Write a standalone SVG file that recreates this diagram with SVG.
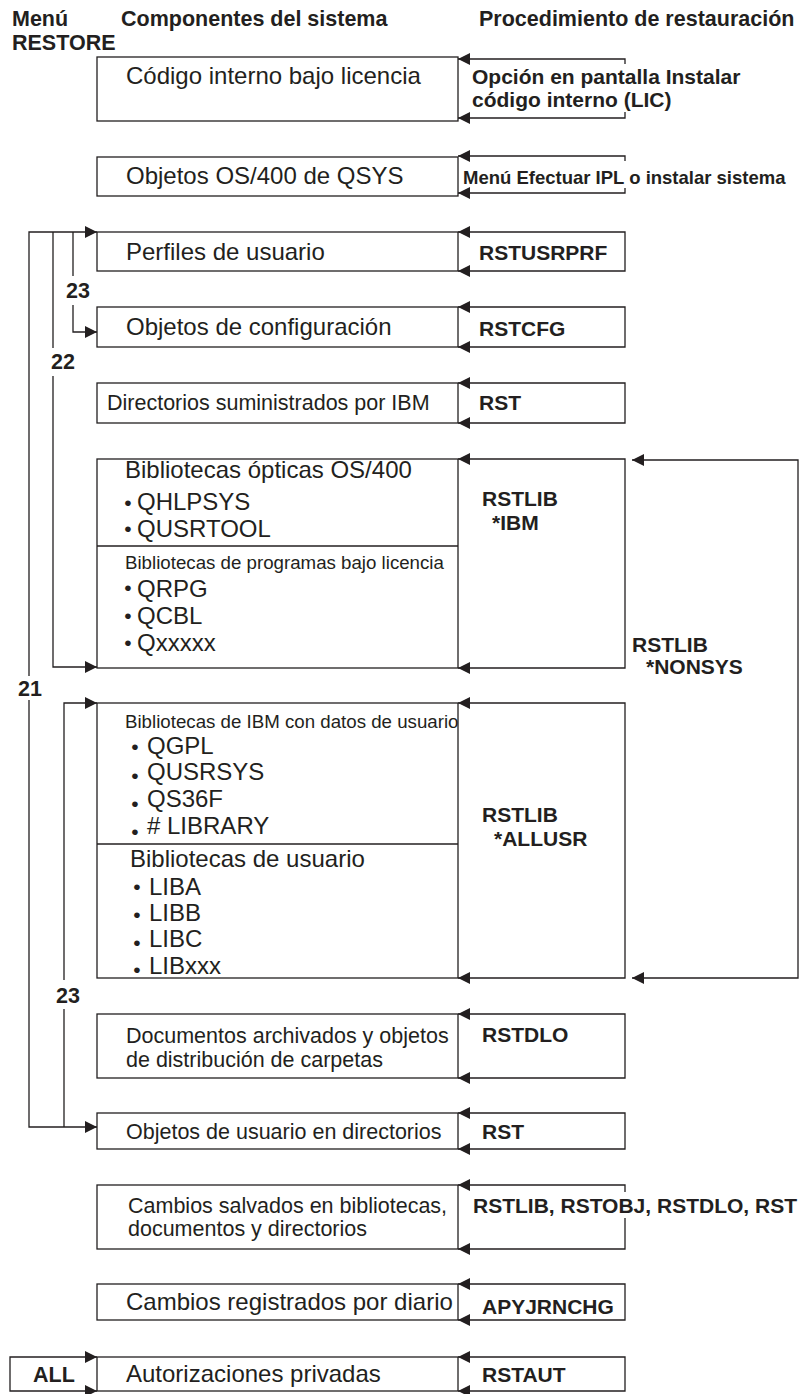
<svg xmlns="http://www.w3.org/2000/svg" width="804" height="1394" viewBox="0 0 804 1394">
<style>
text{font-family:"Liberation Sans",Arial,sans-serif;fill:#231f20}
.h{font-weight:bold;font-size:21.5px}
.b{font-size:24px}
.m{font-size:21.5px}
.s{font-size:18.7px}
.p{font-weight:bold;font-size:21px}
.bu{font-size:21px;text-anchor:middle}
.box{fill:#fff;stroke:#231f20;stroke-width:1.3}
.ln{fill:none;stroke:#231f20;stroke-width:1.3}
</style>
<defs>
<marker id="ah" markerUnits="userSpaceOnUse" markerWidth="13" markerHeight="13" refX="12" refY="6" orient="auto-start-reverse">
<path d="M0,0 L12,6 L0,12 z" fill="#231f20"/>
</marker>
</defs>

<g id="headers">
<text class="h" x="12" y="26">Menú</text>
<text class="h" x="12" y="50">RESTORE</text>
<text class="h" x="121" y="26">Componentes del sistema</text>
<text class="h" x="479" y="26">Procedimiento de restauración</text>
</g>

<g id="connectors">
<path class="ln" d="M625,64 V59 H458" marker-end="url(#ah)"/>
<path class="ln" d="M625,112 V118 H458" marker-end="url(#ah)"/>
<path class="ln" d="M625,161 V156 H458" marker-end="url(#ah)"/>
<path class="ln" d="M625,188 V193 H458" marker-end="url(#ah)"/>
<path class="ln" d="M458,232 H625 V271 H458" marker-start="url(#ah)" marker-end="url(#ah)"/>
<path class="ln" d="M458,307 H625 V347 H458" marker-start="url(#ah)" marker-end="url(#ah)"/>
<path class="ln" d="M458,383 H625 V423 H458" marker-start="url(#ah)" marker-end="url(#ah)"/>
<path class="ln" d="M458,459 H625 V668 H458" marker-start="url(#ah)" marker-end="url(#ah)"/>
<path class="ln" d="M458,703 H625 V978 H458" marker-start="url(#ah)" marker-end="url(#ah)"/>
<path class="ln" d="M632,460 H798 V978 H632" marker-start="url(#ah)" marker-end="url(#ah)"/>
<path class="ln" d="M458,1014 H625 V1078 H458" marker-start="url(#ah)" marker-end="url(#ah)"/>
<path class="ln" d="M458,1113 H625 V1149 H458" marker-start="url(#ah)" marker-end="url(#ah)"/>
<path class="ln" d="M625,1192 V1185 H458" marker-end="url(#ah)"/>
<path class="ln" d="M625,1218 V1249 H458" marker-end="url(#ah)"/>
<path class="ln" d="M458,1284 H625 V1320 H458" marker-start="url(#ah)" marker-end="url(#ah)"/>
<path class="ln" d="M458,1357 H625 V1391 H458" marker-start="url(#ah)" marker-end="url(#ah)"/>
<path class="ln" d="M29,676 V232 H97" marker-end="url(#ah)"/>
<path class="ln" d="M29,700 V1127 H97" marker-end="url(#ah)"/>
<path class="ln" d="M53,232 V348"/>
<path class="ln" d="M53,376 V667 H97" marker-end="url(#ah)"/>
<path class="ln" d="M73,232 V276"/>
<path class="ln" d="M73,305 V332 H97" marker-end="url(#ah)"/>
<path class="ln" d="M64,980 V703 H97" marker-end="url(#ah)"/>
<path class="ln" d="M64,1009 V1127"/>
<path class="ln" d="M97,1357 H10 V1391 H97" marker-start="url(#ah)" marker-end="url(#ah)"/>
<text class="h" x="18" y="696">21</text>
<text class="h" x="51" y="369">22</text>
<text class="h" x="66" y="298">23</text>
<text class="h" x="56" y="1003">23</text>
<text class="h" x="33" y="1382">ALL</text>
</g>

<g id="n1">
<rect class="box" x="97" y="57" width="361" height="64"/>
<text class="b" x="126" y="84">Código interno bajo licencia</text>
<text class="p" x="472" y="84">Opción en pantalla Instalar</text>
<text class="p" x="472" y="107">código interno (LIC)</text>
</g>

<g id="n2">
<rect class="box" x="97" y="157" width="361" height="39"/>
<text class="b" x="126" y="184">Objetos OS/400 de QSYS</text>
<text class="p" x="463" y="184" style="font-size:18.5px">Menú Efectuar IPL o instalar sistema</text>
</g>

<g id="n3">
<rect class="box" x="97" y="232" width="361" height="39"/>
<text class="b" x="126" y="260">Perfiles de usuario</text>
<text class="p" x="479" y="260">RSTUSRPRF</text>
</g>

<g id="n4">
<rect class="box" x="97" y="307" width="361" height="40"/>
<text class="b" x="126" y="335">Objetos de configuración</text>
<text class="p" x="479" y="336">RSTCFG</text>
</g>

<g id="n5">
<rect class="box" x="97" y="383" width="361" height="40"/>
<text class="m" x="107" y="410">Directorios suministrados por IBM</text>
<text class="p" x="479" y="410">RST</text>
</g>

<g id="n6">
<rect class="box" x="97" y="459" width="361" height="209"/>
<line class="ln" x1="97" y1="546" x2="458" y2="546"/>
<text class="b" x="125" y="478">Bibliotecas ópticas OS/400</text>
<text class="bu" x="128" y="509.5">•</text><text class="b" x="137" y="510">QHLPSYS</text>
<text class="bu" x="128" y="535.5">•</text><text class="b" x="137" y="537">QUSRTOOL</text>
<text class="s" x="125" y="569">Bibliotecas de programas bajo licencia</text>
<text class="bu" x="128" y="594.5">•</text><text class="b" x="137" y="597">QRPG</text>
<text class="bu" x="128" y="622.5">•</text><text class="b" x="137" y="624">QCBL</text>
<text class="bu" x="128" y="649.5">•</text><text class="b" x="137" y="651">Qxxxxx</text>
<text class="p" x="482" y="506">RSTLIB</text>
<text class="p" x="492" y="530">*IBM</text>
<text class="p" x="632" y="652">RSTLIB</text>
<text class="p" x="646" y="674">*NONSYS</text>
</g>

<g id="n7">
<rect class="box" x="97" y="703" width="361" height="275"/>
<line class="ln" x1="97" y1="844" x2="458" y2="844"/>
<text class="s" x="125" y="728">Bibliotecas de IBM con datos de usuario</text>
<text class="bu" x="135" y="753.5">•</text><text class="b" x="147" y="754">QGPL</text>
<text class="bu" x="135" y="782.5">•</text><text class="b" x="147" y="780">QUSRSYS</text>
<text class="bu" x="135" y="810.5">•</text><text class="b" x="147" y="807">QS36F</text>
<text class="bu" x="135" y="838.5">•</text><text class="b" x="147" y="834"># LIBRARY</text>
<text class="b" x="130" y="867">Bibliotecas de usuario</text>
<text class="bu" x="137" y="893.5">•</text><text class="b" x="149" y="895">LIBA</text>
<text class="bu" x="137" y="921.5">•</text><text class="b" x="149" y="921">LIBB</text>
<text class="bu" x="137" y="949.5">•</text><text class="b" x="149" y="947">LIBC</text>
<text class="bu" x="137" y="977">•</text><text class="b" x="149" y="974">LIBxxx</text>
<text class="p" x="482" y="822">RSTLIB</text>
<text class="p" x="494" y="846">*ALLUSR</text>
</g>

<g id="n8">
<rect class="box" x="97" y="1014" width="361" height="64"/>
<text class="m" x="126" y="1043">Documentos archivados y objetos</text>
<text class="m" x="126" y="1067">de distribución de carpetas</text>
<text class="p" x="482" y="1042">RSTDLO</text>
</g>

<g id="n9">
<rect class="box" x="97" y="1113" width="361" height="36"/>
<text class="m" x="126" y="1139">Objetos de usuario en directorios</text>
<text class="p" x="482" y="1139">RST</text>
</g>

<g id="n10">
<rect class="box" x="97" y="1185" width="361" height="64"/>
<text class="m" x="128" y="1213">Cambios salvados en bibliotecas,</text>
<text class="m" x="128" y="1236"> documentos y directorios</text>
<text class="p" x="473" y="1213">RSTLIB, RSTOBJ, RSTDLO, RST</text>
</g>

<g id="n11">
<rect class="box" x="97" y="1284" width="361" height="36"/>
<text class="b" x="126" y="1310">Cambios registrados por diario</text>
<text class="p" x="482" y="1314">APYJRNCHG</text>
</g>

<g id="n12">
<rect class="box" x="97" y="1357" width="361" height="34"/>
<text class="b" x="126" y="1382">Autorizaciones privadas</text>
<text class="p" x="482" y="1382">RSTAUT</text>
</g>
</svg>
